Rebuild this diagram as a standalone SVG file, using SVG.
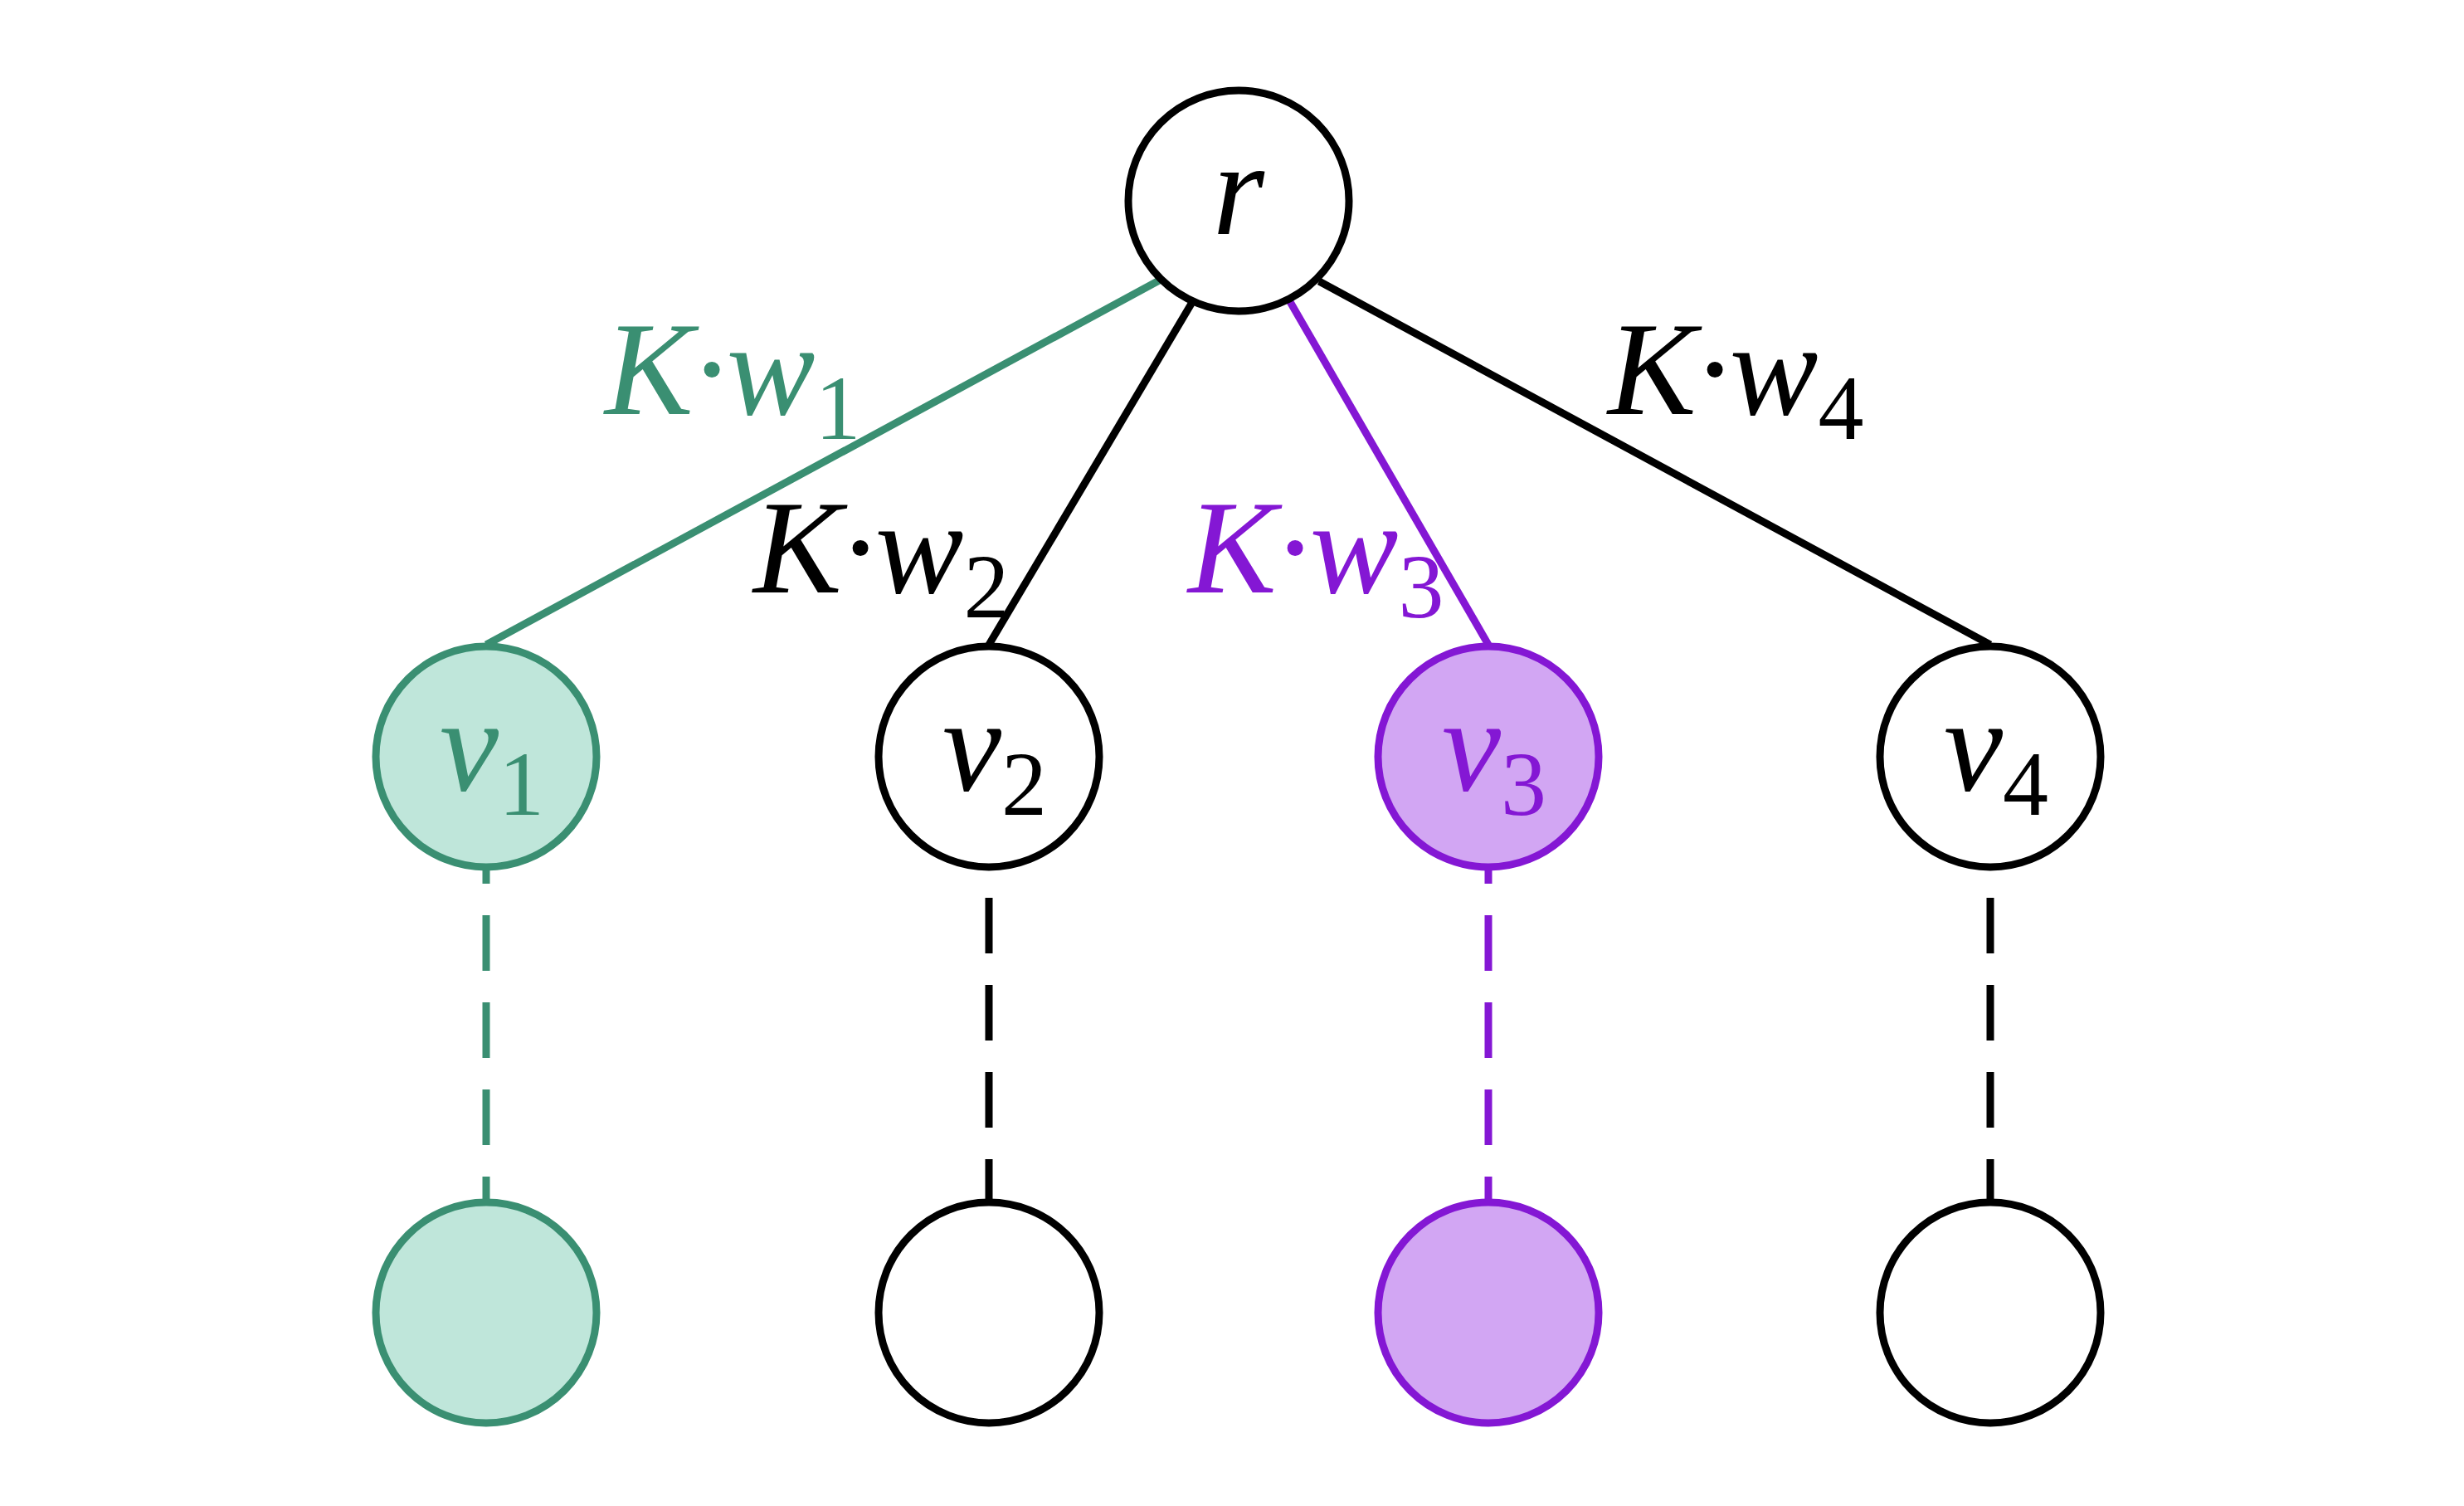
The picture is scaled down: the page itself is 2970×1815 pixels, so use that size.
<svg xmlns="http://www.w3.org/2000/svg" width="2970" height="1815" viewBox="0 0 2970 1815">
<style>
.n{stroke:#000;stroke-width:9;fill:#fff}
.g{stroke:#3a8f72;fill:#bfe6da}
.p{stroke:#8417d4;fill:#d2a6f3}
text{font-family:"Liberation Serif","DejaVu Serif",serif;font-style:italic;font-size:160px}
.s{font-style:normal;font-size:110px}
.e{stroke-width:9;fill:none}
</style>
<rect width="2970" height="1815" fill="#fff"/>
<g id="connectors" class="e">
<line x1="1399" y1="337" x2="586" y2="777" stroke="#3a8f72"/>
<line x1="1436" y1="366" x2="1192" y2="777" stroke="#000"/>
<line x1="1554" y1="362" x2="1794" y2="777" stroke="#8417d4"/>
<line x1="1590" y1="339" x2="2399" y2="777" stroke="#000"/>
<line x1="586" y1="1045" x2="586" y2="1451" stroke="#3a8f72" stroke-dasharray="20 38 67 38 67 38 67 38 67 38"/>
<line x1="1192" y1="1082" x2="1192" y2="1451" stroke="#000" stroke-dasharray="67 38"/>
<line x1="1794" y1="1045" x2="1794" y2="1451" stroke="#8417d4" stroke-dasharray="20 38 67 38 67 38 67 38 67 38"/>
<line x1="2399" y1="1082" x2="2399" y2="1451" stroke="#000" stroke-dasharray="67 38"/>
</g>
<g id="r"><circle class="n" cx="1493" cy="242" r="133"/><text x="1493" y="282" text-anchor="middle">r</text></g>
<g id="v1"><circle class="n g" cx="586" cy="912" r="133"/><text x="530" y="952" fill="#3a8f72">v<tspan class="s" dy="30">1</tspan></text></g>
<g id="v2"><circle class="n" cx="1192" cy="912" r="133"/><text x="1136" y="952">v<tspan class="s" dy="30">2</tspan></text></g>
<g id="v3"><circle class="n p" cx="1794" cy="912" r="133"/><text x="1738" y="952" fill="#8417d4">v<tspan class="s" dy="30">3</tspan></text></g>
<g id="v4"><circle class="n" cx="2399" cy="912" r="133"/><text x="2343" y="952">v<tspan class="s" dy="30">4</tspan></text></g>
<g id="b1"><circle class="n g" cx="586" cy="1582" r="133"/></g>
<g id="b2"><circle class="n" cx="1192" cy="1582" r="133"/></g>
<g id="b3"><circle class="n p" cx="1794" cy="1582" r="133"/></g>
<g id="b4"><circle class="n" cx="2399" cy="1582" r="133"/></g>
<g id="labels">
<text x="729" y="499" fill="#3a8f72">K·w<tspan class="s" dy="30">1</tspan></text>
<text x="908" y="714">K·w<tspan class="s" dy="30">2</tspan></text>
<text x="1432" y="714" fill="#8417d4">K·w<tspan class="s" dy="30">3</tspan></text>
<text x="1938" y="499">K·w<tspan class="s" dy="30">4</tspan></text>
</g>
</svg>
